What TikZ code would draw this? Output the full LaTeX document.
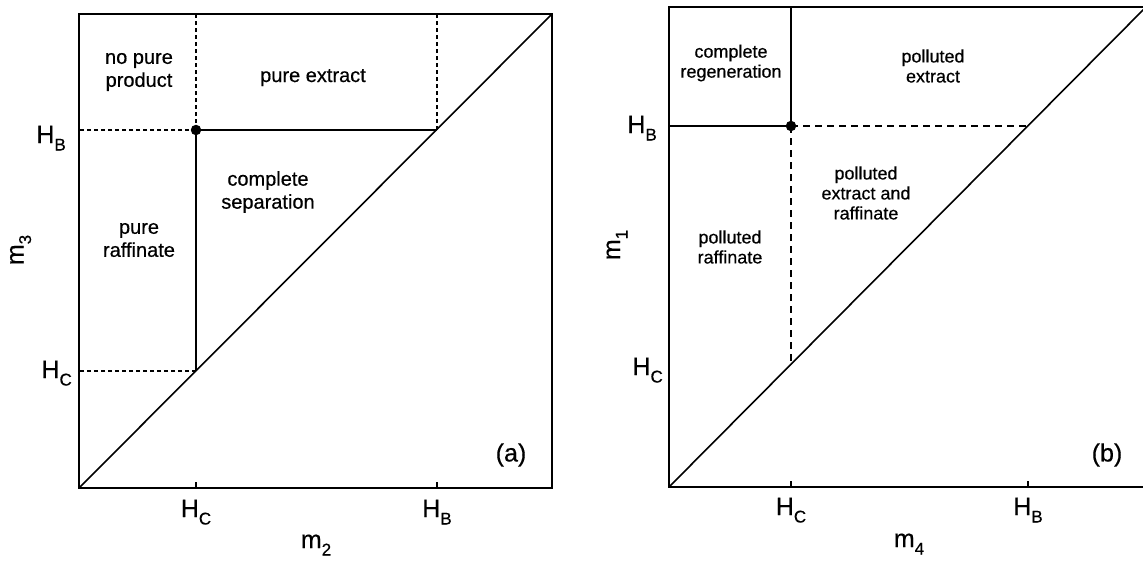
\documentclass[tikz,border=0pt]{standalone}
\usepackage{fontspec}
\setmainfont{Liberation Sans}[FakeBold=0.5]
\usetikzlibrary{positioning, calc}
\newcommand{\lsub}[1]{\raisebox{-0.3em}{\fontsize{17}{17}\selectfont #1}}
\tikzset{
  frame/.style={line width=1.9pt, black},
  bound/.style={line width=1.6pt, black},
  shortdash/.style={line width=1.5pt, black, dash pattern=on 4pt off 3pt},
  longdash/.style={line width=1.5pt, black, dash pattern=on 7pt off 5pt},
  tickmark/.style={line width=1.2pt, black},
  region/.style={font=\fontsize{20}{23}\selectfont, align=center, inner sep=0pt},
  regionb/.style={font=\fontsize{18}{20}\selectfont, align=center, inner sep=0pt},
  axlbl/.style={font=\fontsize{25}{25}\selectfont, inner sep=0pt},
  dotpt/.style={circle, fill=black, inner sep=0pt, minimum size=10.5pt},
}

\begin{document}
\begin{tikzpicture}[x=1pt, y=-1pt]
  \useasboundingbox (0,0) rectangle (1143,560);
  %% panel (a): m2 / m3 plane
  \coordinate (a-bl)  at (79,488);
  \coordinate (a-tr)  at (552,14);
  \coordinate (a-c)   at (196,371);
  \coordinate (a-b)   at (437,130);
  \coordinate (a-dot) at (196,130);
  \draw[frame] (a-bl) rectangle (a-tr);
  \draw[bound] (a-bl) -- (a-tr);
  \draw[bound] (a-c) -- (a-dot) -- (a-b);
  \draw[shortdash] (a-dot) -- (a-dot |- a-tr);
  \draw[shortdash] (a-b) -- (a-b |- a-tr);
  \draw[shortdash] (a-dot) -- (a-dot -| a-bl);
  \draw[shortdash] (a-c) -- (a-c -| a-bl);
  \node[dotpt] (a-pt) at (a-dot) {};
  %% panel (b): m4 / m1 plane
  \coordinate (b-bl)  at (669,487);
  \coordinate (b-tr)  at (1146,7);
  \coordinate (b-c)   at (791,365);
  \coordinate (b-b)   at (1028,126);
  \coordinate (b-dot) at (791,126);
  \draw[frame] (b-bl) rectangle (b-tr);
  \draw[bound] (b-bl) -- (b-tr);
  \draw[bound] (b-dot |- b-tr) -- (b-dot) -- (b-dot -| b-bl);
  \draw[longdash] (b-dot) -- (b-b);
  \draw[longdash] (b-dot) -- (b-c);
  \node[dotpt] (b-pt) at (b-dot) {};
  %% ticks on the m2 and m4 axes
  \foreach \p/\q in {a-c/a-bl, a-b/a-bl, b-c/b-bl, b-b/b-bl}
    \draw[tickmark] (\p |- \q) -- ++(0,-6);
  %% axis labels
  \node[axlbl, anchor=base] (a-xc) at ($(a-c |- a-bl)+(0,29)$) {H\lsub{C}};
  \node[axlbl, anchor=base] (a-xb) at ($(a-b |- a-bl)+(0,29)$) {H\lsub{B}};
  \node[axlbl, anchor=base east] (a-yb) at (66,143) {H\lsub{B}};
  \node[axlbl, anchor=base east] (a-yc) at (72,378) {H\lsub{C}};
  \node[axlbl, anchor=base] (a-xl) at (316,548) {m\lsub{2}};
  \node[axlbl, anchor=base, rotate=90] (a-yl) at (23.5,250) {m\lsub{3}};
  \node[axlbl, anchor=base] (b-xc) at ($(b-c |- b-bl)+(0,28)$) {H\lsub{C}};
  \node[axlbl, anchor=base] (b-xb) at ($(b-b |- b-bl)+(0,28)$) {H\lsub{B}};
  \node[axlbl, anchor=base east] (b-yb) at (657,133) {H\lsub{B}};
  \node[axlbl, anchor=base east] (b-yc) at (663,375) {H\lsub{C}};
  \node[axlbl, anchor=base] (b-xl) at (909,547) {m\lsub{4}};
  \node[axlbl, anchor=base, rotate=90] (b-yl) at (620,245) {m\lsub{1}};
  %% region labels
  \node[region] (nopure) at (139,72)  {no pure\\product};
  \node[region, anchor=base] (pureext) at (313,82) {pure extract};
  \node[region] (compsep) at (268,192) {complete\\separation};
  \node[region] (pureraf) at (139,240) {pure\\raffinate};
  \node[axlbl] (tag-a) at (511,455) {(a)};
  \node[regionb] (compreg) at (731,63)  {complete\\regeneration};
  \node[regionb] (polext)  at (933,66)  {polluted\\extract};
  \node[regionb] (polboth) at (866,193) {polluted\\extract and\\raffinate};
  \node[regionb] (polraf)  at (730,247) {polluted\\raffinate};
  \node[axlbl] (tag-b) at (1107,455) {(b)};
\end{tikzpicture}
\end{document}
